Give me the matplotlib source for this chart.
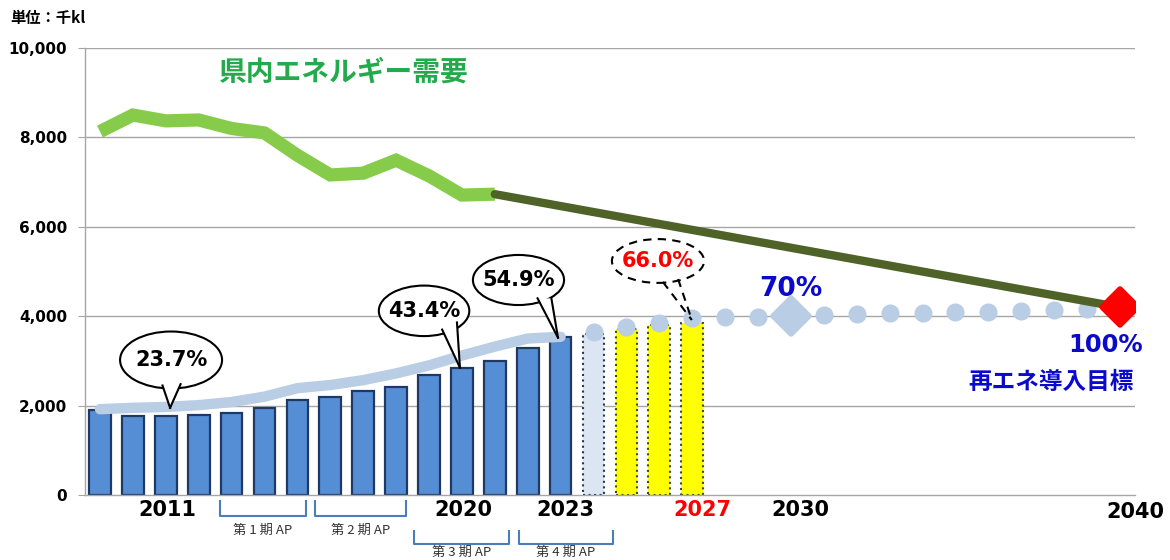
import matplotlib
matplotlib.use('Agg')
import matplotlib.pyplot as plt
from matplotlib.patches import Ellipse, Polygon
from matplotlib.markers import MarkerStyle

# ---------------- data ----------------
years_hist = list(range(2009, 2024))
re_bars_hist = [1900, 1760, 1760, 1790, 1830, 1950, 2120, 2200, 2330, 2420,
                2690, 2840, 3000, 3290, 3540]
years_est = [2024]
re_bars_est = [3600]
years_plan = [2025, 2026, 2027]
re_bars_plan = [3710, 3800, 3850]

re_trend_hist = [1920, 1950, 1970, 2010, 2080, 2200, 2390, 2460, 2570, 2720,
                 2900, 3120, 3320, 3500, 3540]
years_target = [2024, 2025, 2026, 2027, 2028, 2029, 2031, 2032, 2033, 2034,
                2035, 2036, 2037, 2038, 2039]
re_target = [3650, 3760, 3850, 3960, 3980, 3990, 4030, 4050, 4070, 4080,
             4090, 4100, 4120, 4140, 4160]
year_2030, goal_2030 = 2030, 4000
year_2040, goal_2040 = 2040, 4200

demand_years = list(range(2009, 2022))
demand = [8130, 8500, 8370, 8390, 8200, 8100, 7600, 7160, 7200, 7490, 7140, 6710, 6730]
demand_proj_years = [2021, 2040]
demand_proj = [6730, 4200]

yticks = [0, 2000, 4000, 6000, 8000, 10000]
ytick_labels = ['0', '2,000', '4,000', '6,000', '8,000', '10,000']

year_labels = ['2011', '2020', '2023', '2027', '2030', '2040']
ap_labels = ['第 1 期 AP', '第 2 期 AP', '第 3 期 AP', '第 4 期 AP']
ap_spans = [(2012.65, 2015.26), (2015.55, 2018.30), (2018.55, 2021.43), (2021.74, 2024.59)]

# ---------------- figure ----------------
CJK = ['Noto Sans CJK JP', 'DejaVu Sans']
fig = plt.figure(figsize=(11.7, 5.6), dpi=100)
ax = fig.add_axes([85 / 1170, 65 / 560, 1050 / 1170, 447 / 560])
ax.set_xlim(2009 - 15 / 32.9, 2009 + 1035 / 32.9)
ax.set_ylim(0, 10000)

grid_c = '#A6A6A6'
for s in ['top', 'right']:
    ax.spines[s].set_visible(False)
for s in ['left', 'bottom']:
    ax.spines[s].set_color(grid_c)
    ax.spines[s].set_linewidth(1.0)
ax.set_yticks(yticks)
ax.set_yticklabels(ytick_labels, fontsize=11, fontweight='bold')
ax.tick_params(axis='y', length=5, color=grid_c, pad=8)
ax.set_xticks([])
for v in yticks[1:]:
    ax.axhline(v, color=grid_c, lw=1.0, zorder=0)

# bars
bw = 0.66
ax.bar(years_hist, re_bars_hist, width=bw, color='#558ED5', edgecolor='#1F3864',
       linewidth=1.6, zorder=2)
ax.bar(years_est, re_bars_est, width=bw, color='#DCE6F2', edgecolor='#1F3864',
       linewidth=1.5, linestyle=':', zorder=2)
ax.bar(years_plan, re_bars_plan, width=bw, color='#FFFF00', edgecolor='#3B4A2A',
       linewidth=1.5, linestyle=':', zorder=2)

# renewable trend
lb = '#B9CDE5'
ax.plot(years_hist, re_trend_hist, color=lb, lw=7.5, solid_capstyle='round',
        solid_joinstyle='round', zorder=3)
ax.plot(years_target, re_target, ls='none', marker='o', ms=12, color=lb, zorder=3)
ax.plot([year_2030], [goal_2030], ls='none', marker=MarkerStyle('D', joinstyle='round'),
        ms=18.5, color=lb, mec=lb, mew=4, zorder=4)

# demand
ax.plot(demand_years, demand, color='#86CC4A', lw=9.5, solid_capstyle='butt',
        solid_joinstyle='miter', zorder=3)
ax.plot(demand_proj_years, demand_proj, color='#4F6228', lw=6, solid_capstyle='round',
        zorder=3)
ax.plot([year_2040], [goal_2040], ls='none', marker=MarkerStyle('D', joinstyle='round'),
        ms=18, color='#FF0000', mec='#FF0000', mew=4, zorder=5)

# ---------------- callouts ----------------
def callout(cx, cy, w, h, b1, b2, tip, text, tcolor='black', dashed=False):
    ls = (0, (4, 3)) if dashed else '-'
    e = Ellipse((cx, cy), w, h, facecolor='white', edgecolor='black', lw=1.5,
                linestyle=ls, zorder=6)
    ax.add_patch(e)
    if not dashed:
        poly = Polygon([b1, b2, tip], closed=True, facecolor='white', edgecolor='none',
                       zorder=6.5)
        ax.add_patch(poly)
    ax.plot([b1[0], tip[0]], [b1[1], tip[1]], color='black', lw=1.5, ls=ls, zorder=7)
    ax.plot([b2[0], tip[0]], [b2[1], tip[1]], color='black', lw=1.5, ls=ls, zorder=7)
    ax.text(cx, cy, text, ha='center', va='center', fontsize=15, fontweight='bold',
            color=tcolor, zorder=8)

callout(2011.16, 3020, 3.1, 1275, (2010.90, 2450), (2011.45, 2480), (2011.13, 1950), '23.7%')
callout(2018.85, 4120, 2.75, 1130, (2019.40, 3700), (2019.85, 3860), (2019.94, 2850), '43.4%')
callout(2021.72, 4810, 2.77, 1120, (2022.30, 4400), (2022.72, 4400), (2022.92, 3520), '54.9%')
callout(2025.96, 5235, 2.8, 980, (2026.11, 4765), (2026.57, 4832), (2026.99, 3915), '66.0%',
        tcolor='#FF0000', dashed=True)

# ---------------- texts ----------------
ax.text(2016.4, 9460, '県内エネルギー需要', family=CJK, fontsize=20, fontweight='bold',
        color='#22AA4C', ha='center', va='center')
ax.text(2030.0, 4610, '70%', fontsize=19, fontweight='bold', color='#0A0ACC',
        ha='center', va='center')
ax.text(2039.55, 3350, '100%', fontsize=17.5, fontweight='bold', color='#0A0ACC',
        ha='center', va='center')
ax.text(2037.9, 2530, '再エネ導入目標', family=CJK, fontsize=17, fontweight='bold',
        color='#0A0ACC', ha='center', va='center')
fig.text(10 / 1170, 1 - 18 / 560, '単位：千kl', family=CJK, fontsize=11,
         fontweight='bold', ha='left', va='center')

label_x = [2011.04, 2020.03, 2023.13, 2027.30, 2030.28, 2040.46]
label_y = [-336, -336, -336, -336, -336, -380]
label_c = ['black', 'black', 'black', '#FF0000', 'black', 'black']
for x, y, t, c in zip(label_x, label_y, year_labels, label_c):
    ax.text(x, y, t, fontsize=15, fontweight='bold', color=c, ha='center', va='center',
            clip_on=False)

br_c = '#4A7EBB'
br_rows = [(-134, -470, -800), (-134, -470, -800), (-800, -1100, -1290), (-800, -1100, -1290)]
for (x0, x1), (ytop, ybot, ylab), lab in zip(ap_spans, br_rows, ap_labels):
    ax.plot([x0, x0, x1, x1], [ytop, ybot, ybot, ytop], color=br_c, lw=1.5,
            solid_joinstyle='round', clip_on=False)
    ax.text((x0 + x1) / 2, ylab, lab, family=CJK, fontsize=9.5, color='#333333',
            ha='center', va='center', clip_on=False)

fig.savefig('out.png', dpi=100)
